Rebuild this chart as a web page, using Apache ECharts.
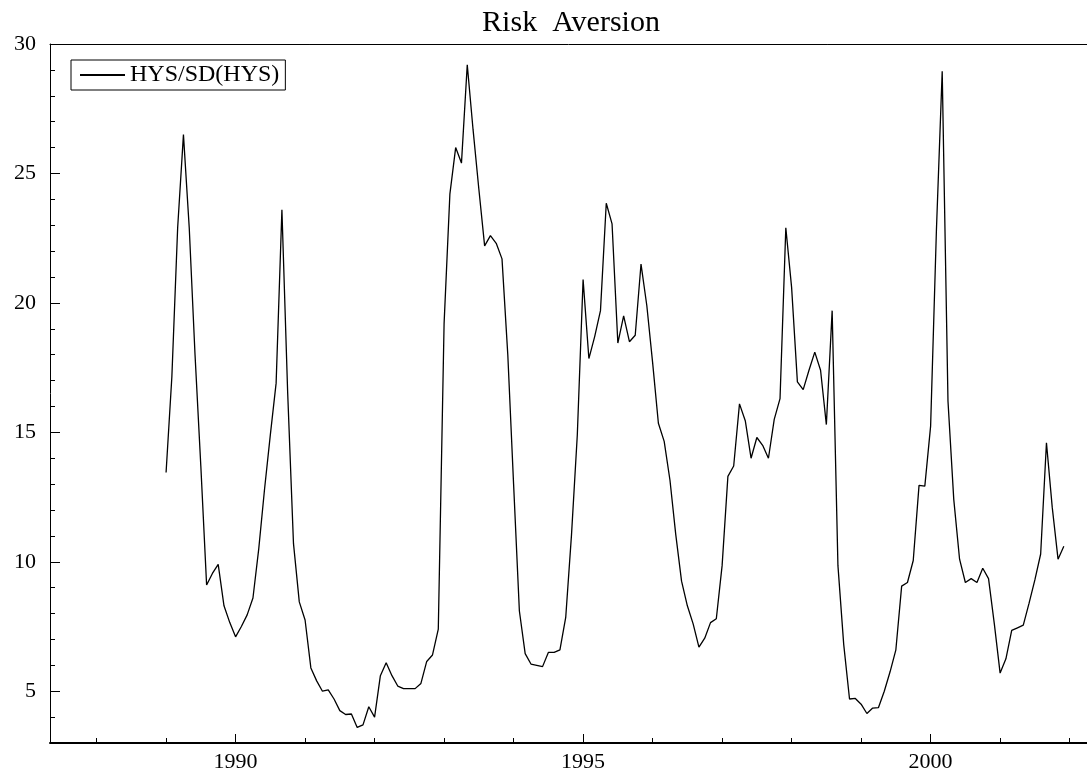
<!DOCTYPE html>
<html>
<head>
<meta charset="utf-8">
<title>Risk Aversion</title>
<script src="https://cdn.jsdelivr.net/npm/echarts@6/dist/echarts.min.js"></script>
<style>
  html, body { margin: 0; padding: 0; background: #fff; }
  #chart { width: 1087px; height: 778px; }
</style>
</head>
<body>
<div id="chart"></div>
<script>
  // monthly values, Jan 1989 .. Dec 2001
  var startYear = 1989;
  var seriesName = 'HYS/SD(HYS)';
  var hys = [
    13.45, 17.15, 22.9, 26.5, 22.9, 18.0, 13.7, 9.1, 9.55, 9.9, 8.3, 7.65,     // 1989
    7.1, 7.5, 7.95, 8.6, 10.5, 12.8, 14.9, 16.9, 23.6, 16.5, 10.7, 8.45,       // 1990
    7.75, 5.9, 5.4, 5.0, 5.05, 4.7, 4.25, 4.1, 4.12, 3.6, 3.7, 4.4,            // 1991
    4.0, 5.6, 6.1, 5.6, 5.2, 5.1, 5.1, 5.1, 5.3, 6.15, 6.4, 7.4,               // 1992
    19.2, 24.2, 26.0, 25.4, 29.2, 26.7, 24.4, 22.2, 22.6, 22.3, 21.7, 18.0,    // 1993
    13.0, 8.1, 6.45, 6.05, 6.0, 5.95, 6.5, 6.5, 6.6, 7.85, 11.05, 14.9,        // 1994
    20.9, 17.85, 18.7, 19.7, 23.85, 23.05, 18.45, 19.5, 18.5, 18.75, 21.5, 19.9, // 1995
    17.7, 15.35, 14.65, 13.15, 11.05, 9.25, 8.3, 7.6, 6.7, 7.05, 7.65, 7.8,    // 1996
    9.85, 13.3, 13.7, 16.1, 15.45, 14.0, 14.8, 14.5, 14.0, 15.5, 16.3, 22.9,   // 1997
    20.6, 16.95, 16.65, 17.4, 18.1, 17.4, 15.3, 19.7, 9.85, 6.8, 4.7, 4.72,    // 1998
    4.5, 4.14, 4.35, 4.37, 5.0, 5.75, 6.6, 9.06, 9.2, 10.05, 12.95, 12.92,     // 1999
    15.24, 22.8, 28.95, 16.2, 12.4, 10.1, 9.2, 9.35, 9.2, 9.75, 9.35, 7.6,     // 2000
    5.7, 6.25, 7.35, 7.45, 7.55, 8.4, 9.3, 10.3, 14.6, 12.1, 10.1, 10.6        // 2001
  ];
  var yearTicks = [1988, 1989, 1990, 1991, 1992, 1993, 1994, 1995, 1996, 1997, 1998, 1999, 2000, 2001, 2002];
  var xLabels = [1990, 1995, 2000];
  var yTicks = [3, 4, 5, 6, 7, 8, 9, 10, 11, 12, 13, 14, 15, 16, 17, 18, 19, 20, 21, 22, 23, 24, 25, 26, 27, 28, 29, 30];
  var yLabels = [5, 10, 15, 20, 25, 30];

  var points = hys.map(function (v, i) {
    return [startYear + i / 12, v];
  });

  var font = '"Liberation Serif", "Times New Roman", serif';
  var xMin = 1987.33, xMax = 2002.25;

  var chart = echarts.init(document.getElementById('chart'));
  chart.setOption({
    animation: false,
    backgroundColor: '#fff',
    title: {
      text: 'Risk  Aversion',
      left: 566,
      textAlign: 'center',
      top: 3,
      textStyle: { fontFamily: font, fontSize: 30, fontWeight: 'normal', color: '#000' }
    },
    legend: {
      data: [seriesName],
      left: 71,
      top: 60,
      padding: [3, 6, 3, 8],
      borderColor: '#000',
      borderWidth: 1,
      itemWidth: 45,
      itemHeight: 14,
      itemGap: 9,
      // plain line sample, no marker
      itemStyle: { color: 'rgba(0,0,0,0)', borderWidth: 0 },
      textStyle: { fontFamily: font, fontSize: 24, color: '#000' }
    },
    grid: {
      left: 50,
      right: -3,
      top: 44,
      bottom: 35
    },
    xAxis: [
      {
        type: 'value',
        min: xMin,
        max: xMax,
        position: 'bottom',
        axisLine: { show: true, lineStyle: { color: '#000', width: 2 } },
        axisTick: { show: true, inside: true, length: 5, customValues: yearTicks, lineStyle: { color: '#000' } },
        axisLabel: {
          customValues: xLabels, margin: 8, fontFamily: font, fontSize: 22, color: '#000',
          formatter: function (v) { return String(Math.round(v)); }
        },
        splitLine: { show: false }
      },
      {
        // longer ticks under the labelled years
        type: 'value',
        min: xMin,
        max: xMax,
        position: 'bottom',
        axisLine: { show: false },
        axisTick: { show: true, inside: true, length: 9, customValues: xLabels, lineStyle: { color: '#000' } },
        axisLabel: { show: false },
        splitLine: { show: false }
      },
      {
        // top frame line
        type: 'value',
        min: xMin,
        max: xMax,
        position: 'top',
        axisLine: { show: true, lineStyle: { color: '#000', width: 1 } },
        axisTick: { show: false },
        axisLabel: { show: false },
        splitLine: { show: false }
      }
    ],
    yAxis: [
      {
        type: 'value',
        min: 3,
        max: 30,
        interval: 1,
        position: 'left',
        axisLine: { show: true, lineStyle: { color: '#000', width: 1 } },
        axisTick: { show: true, inside: true, length: 5, customValues: yTicks, lineStyle: { color: '#000' } },
        axisLabel: { customValues: yLabels, margin: 14, fontFamily: font, fontSize: 22, color: '#000' },
        splitLine: { show: false }
      },
      {
        type: 'value',
        min: 3,
        max: 30,
        position: 'left',
        axisLine: { show: false },
        axisTick: { show: true, inside: true, length: 10, customValues: yLabels, lineStyle: { color: '#000' } },
        axisLabel: { show: false },
        splitLine: { show: false }
      }
    ],
    series: [
      {
        name: seriesName,
        type: 'line',
        xAxisIndex: 0,
        yAxisIndex: 0,
        data: points,
        symbol: 'none',
        lineStyle: { color: '#000', width: 1.3 },
        itemStyle: { color: '#000' }
      }
    ]
  });
</script>
</body>
</html>
